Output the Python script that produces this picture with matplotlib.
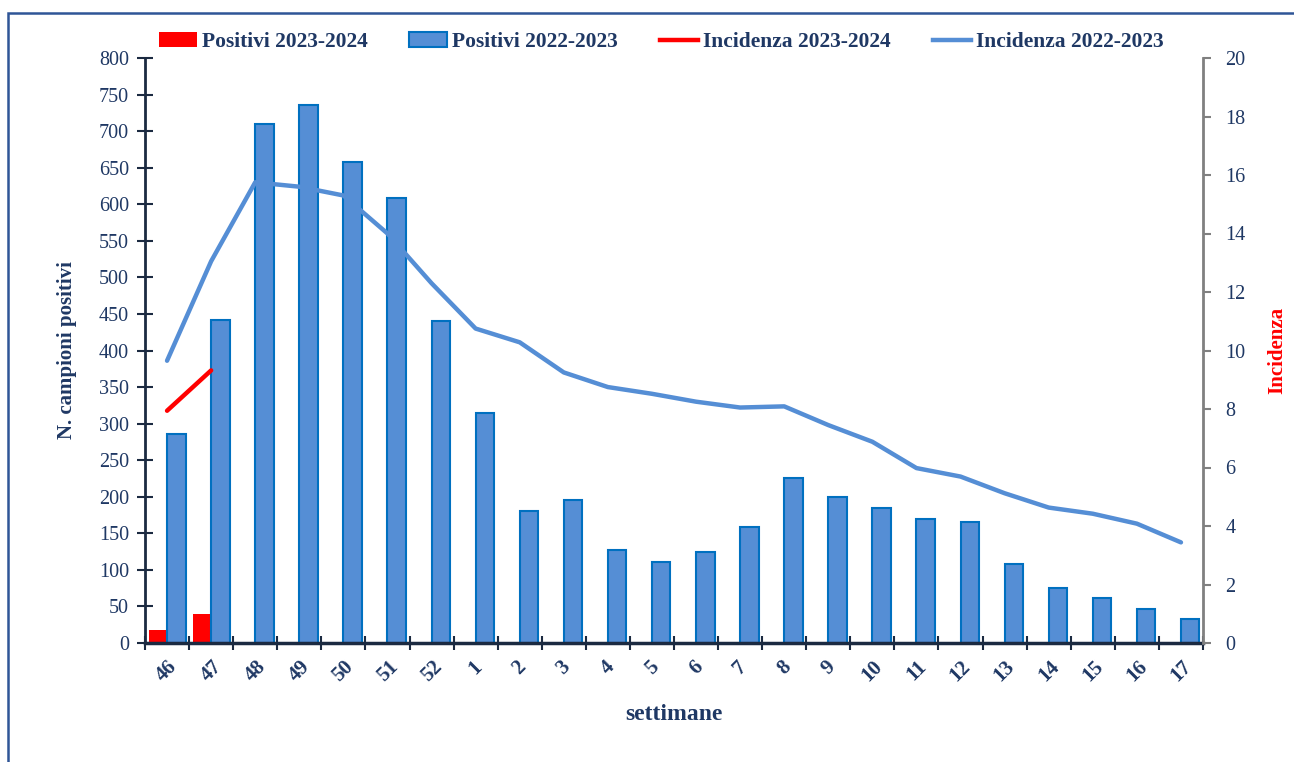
import matplotlib
matplotlib.use("Agg")
import matplotlib.pyplot as plt
import matplotlib.patches as mpatches
from matplotlib.lines import Line2D
import numpy as np

weeks = ['46', '47', '48', '49', '50', '51', '52', '1', '2', '3', '4', '5',
         '6', '7', '8', '9', '10', '11', '12', '13', '14', '15', '16', '17']
pos_2022_23 = [286, 442, 710, 736, 658, 609, 441, 315, 180, 196, 127, 111,
               125, 159, 225, 199, 185, 169, 166, 108, 75, 62, 46, 33]
pos_2023_24 = [18, 40]
inc_2022_23 = [9.65, 13.05, 15.75, 15.6, 15.3, 14.0, 12.3, 10.75, 10.28, 9.25,
               8.75, 8.52, 8.25, 8.05, 8.09, 7.45, 6.88, 5.98, 5.69, 5.12,
               4.63, 4.42, 4.08, 3.44]
inc_2023_24 = [7.94, 9.32]

plt.rcParams['font.family'] = ['Liberation Serif', 'DejaVu Serif']

NAVY = '#1F3864'
SPINE = '#1B2A41'
BLUE_FILL = '#558ED5'
BLUE_EDGE = '#0070C0'
RED = '#FF0000'

fig = plt.figure(figsize=(12.94, 7.62), dpi=100)
ax = fig.add_axes([145/1294, 1-643/762, (1203-145)/1294, (643-58)/762])
ax2 = ax.twinx()

x = np.arange(len(weeks))
w = 0.42
ax.bar(x[:len(pos_2023_24)] - w/2, pos_2023_24, width=w, color=RED,
       edgecolor='none', zorder=2)
ax.bar(x + w/2, pos_2022_23, width=w, color=BLUE_FILL, edgecolor=BLUE_EDGE,
       linewidth=1.5, zorder=2)

ax2.plot(x, inc_2022_23, color=BLUE_FILL, lw=3.2, solid_capstyle='round', zorder=3)
ax2.plot(x[:len(inc_2023_24)], inc_2023_24, color=RED, lw=3.2,
         solid_capstyle='round', zorder=3)

ax.set_xlim(-0.5, len(weeks) - 0.5)
ax.set_ylim(0, 800)
ax2.set_ylim(0, 20)
ax.set_yticks(np.arange(0, 801, 50))
ax2.set_yticks(np.arange(0, 21, 2))

# x ticks: boundaries as major ticks, labels at centers
ax.set_xticks(np.arange(-0.5, len(weeks), 1))
ax.set_xticklabels([])
ax.set_xticks(x, minor=True)
ax.set_xticklabels(weeks, minor=True, rotation=45, fontweight='bold',
                   color=NAVY, fontsize=15, ha='center', va='top')
ax.tick_params(axis='x', which='major', direction='inout', length=10,
               width=1.5, color=SPINE)
ax.tick_params(axis='x', which='minor', length=0, pad=10)

ax.tick_params(axis='y', direction='inout', length=11, width=1.5, color=SPINE,
               labelcolor=NAVY, labelsize=14.5, pad=6)
ax2.tick_params(axis='y', direction='out', length=6, width=1.5, color='#808080',
                labelcolor=NAVY, labelsize=14.5, pad=10)

for s in ['top', 'right']:
    ax.spines[s].set_visible(False)
ax.spines['left'].set_color(SPINE)
ax.spines['left'].set_linewidth(2)
ax.spines['bottom'].set_color(SPINE)
ax.spines['bottom'].set_linewidth(2.5)
for s in ['top', 'left', 'bottom']:
    ax2.spines[s].set_visible(False)
ax2.spines['right'].set_color('#808080')
ax2.spines['right'].set_linewidth(2)

ax.set_xlabel('settimane', fontweight='bold', color=NAVY, fontsize=17)
ax.xaxis.set_label_coords(0.5, -0.105)
ax.set_ylabel('N. campioni positivi', fontweight='bold', color=NAVY,
              fontsize=15)
ax.yaxis.set_label_coords(-0.064, 0.5)
ax2.set_ylabel('Incidenza', fontweight='bold', color=RED, fontsize=15,
               rotation=90)
ax2.yaxis.set_label_coords(1.061, 0.5)

handles = [
    mpatches.Patch(facecolor=RED, edgecolor='none', label='Positivi 2023-2024'),
    mpatches.Patch(facecolor=BLUE_FILL, edgecolor=BLUE_EDGE, linewidth=1.5,
                   label='Positivi 2022-2023'),
    Line2D([0], [0], color=RED, lw=3.2, label='Incidenza 2023-2024'),
    Line2D([0], [0], color=BLUE_FILL, lw=3.2, label='Incidenza 2022-2023'),
]
fig.legend(handles=handles, loc='center', bbox_to_anchor=(661/1294, 1-42/762),
           ncol=4, frameon=False, handlelength=1.77, handletextpad=0.23,
           columnspacing=1.95, prop={'weight': 'bold', 'size': 15.5},
           labelcolor=NAVY, borderpad=0.2)

# outer frame
frame = mpatches.Rectangle((8/1294, -0.1), 1.2, 1 - 13/762 + 0.1,
                           transform=fig.transFigure, fill=False,
                           edgecolor='#2F5597', linewidth=1.8, clip_on=False)
fig.patches.append(frame)

fig.savefig('out.png', dpi=100)
